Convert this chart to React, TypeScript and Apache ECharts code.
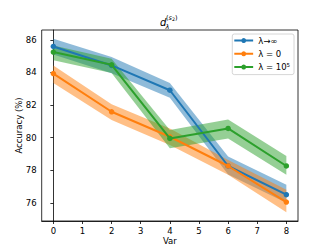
import React, { useEffect, useRef } from "react";
import * as echarts from "echarts";

const xValues = [0, 2, 4, 6, 8];
const seriesNames = ["λ→∞", "λ = 0", "λ = 10⁵"];
const colors = ["#1f77b4", "#ff7f0e", "#2ca02c"];

const blueMean = [85.59, 84.43, 82.91, 78.27, 76.51];
const blueLower = [85.1, 83.95, 82.45, 77.75, 76.02];
const blueUpper = [86.06, 84.94, 83.35, 78.85, 77.12];

const orangeMean = [83.93, 81.59, 80.06, 78.27, 76.06];
const orangeLower = [83.35, 81.08, 79.55, 77.73, 75.43];
const orangeUpper = [84.43, 82.05, 80.57, 78.64, 76.81];

const greenMean = [85.25, 84.47, 79.96, 80.57, 78.27];
const greenLower = [84.74, 83.96, 79.35, 79.96, 77.73];
const greenUpper = [85.65, 84.84, 80.47, 81.12, 78.88];

const xTicks = [0, 1, 2, 3, 4, 5, 6, 7, 8];
const yTicks = [76, 78, 80, 82, 84, 86];

const FONT = "DejaVu Sans";

export default function App() {
  const ref = useRef<HTMLDivElement>(null);
  useEffect(() => {
    if (!ref.current) return;
    const chart = echarts.init(ref.current, undefined, { renderer: "svg" });
    const means = [blueMean, orangeMean, greenMean];
    const lowers = [blueLower, orangeLower, greenLower];
    const uppers = [blueUpper, orangeUpper, greenUpper];

    const bandSeries = means.map((_, i) => ({
      type: "custom",
      silent: true,
      z: 1,
      data: [[xValues[0], lowers[i][0]]],
      encode: { x: 0, y: 1 },
      renderItem: (params: any, api: any) => {
        const top = xValues.map((x, j) => api.coord([x, uppers[i][j]]));
        const bottom = xValues.map((x, j) => api.coord([x, lowers[i][j]])).reverse();
        return {
          type: "polygon",
          shape: { points: top.concat(bottom) },
          style: { fill: colors[i], opacity: 0.5 },
        };
      },
    }));

    const lineSeries = means.map((m, i) => ({
      name: seriesNames[i],
      type: "line",
      data: xValues.map((x, j) => [x, m[j]]),
      symbol: "circle",
      symbolSize: 5.5,
      showSymbol: true,
      lineStyle: { color: colors[i], width: 2 },
      itemStyle: { color: colors[i] },
      z: 3 + i,
    }));

    const legendIcon =
      "path://M0,1.5H7.2A2.5,2.5 0 0 1 11.8,1.5H19V3.5H11.8A2.5,2.5 0 0 1 7.2,3.5H0Z";

    chart.setOption({
      animation: false,
      grid: {
        left: 41.7,
        right: 34,
        top: 30,
        bottom: 28,
        outerBoundsMode: "none",
        containLabel: false,
        show: true,
        borderColor: "#000",
        borderWidth: 0.8,
        backgroundColor: "transparent",
      },
      xAxis: {
        type: "value",
        min: -0.4,
        max: 8.4,
        name: "Var",
        nameLocation: "middle",
        nameGap: 15,
        nameMoveOverlap: false,
        nameTextStyle: { fontFamily: FONT, fontSize: 8.5, color: "#000" },
        axisLine: { show: true, lineStyle: { color: "#000", width: 0.8 } },
        axisTick: { show: true, length: 3, customValues: xTicks, lineStyle: { color: "#000", width: 0.8 } },
        axisLabel: { customValues: xTicks, fontFamily: FONT, fontSize: 8.5, color: "#000", margin: 5 },
        splitLine: { show: false },
      },
      yAxis: {
        type: "value",
        min: 74.9,
        max: 86.6,
        name: "Accuracy (%)",
        nameLocation: "middle",
        nameGap: 18,
        nameMoveOverlap: false,
        nameTextStyle: { fontFamily: FONT, fontSize: 8.5, color: "#000" },
        axisLine: { show: true, lineStyle: { color: "#000", width: 0.8 } },
        axisTick: { show: true, length: 3, customValues: yTicks, lineStyle: { color: "#000", width: 0.8 } },
        axisLabel: { customValues: yTicks, fontFamily: FONT, fontSize: 8.5, color: "#000", margin: 5 },
        splitLine: { show: false },
      },
      legend: {
        data: seriesNames,
        orient: "vertical",
        right: 38,
        top: 34,
        itemWidth: 19,
        itemHeight: 5,
        itemGap: 3.3,
        icon: legendIcon,
        padding: [1.5, 4, 2.5, 2],
        borderColor: "#ccc",
        borderWidth: 0.8,
        borderRadius: 2,
        backgroundColor: "rgba(255,255,255,0.8)",
        textStyle: { fontFamily: FONT, fontSize: 8.5, color: "#000", lineHeight: 10 },
      },
      graphic: [
        {
          type: "text",
          x: 160,
          y: 22,
          style: { text: "d", font: "italic 10px DejaVu Sans", fill: "#000", verticalAlign: "middle" },
        },
        {
          type: "text",
          x: 165.5,
          y: 26.5,
          style: { text: "λ", font: "italic 6.5px DejaVu Sans", fill: "#000", verticalAlign: "middle" },
        },
        {
          type: "text",
          x: 166,
          y: 17.5,
          style: {
            text: "{n|(}{i|s}{s|2}{n|)}",
            verticalAlign: "middle",
            rich: {
              n: { fontFamily: FONT, fontSize: 6.5, fill: "#000" },
              i: { fontFamily: FONT, fontSize: 6.5, fontStyle: "italic", fill: "#000" },
              s: { fontFamily: FONT, fontSize: 4.8, fill: "#000", padding: [3, 0, 0, 0] },
            },
          },
        },
      ],
      series: [...bandSeries, ...lineSeries],
    });
    return () => chart.dispose();
  }, []);
  return <div ref={ref} style={{ width: 332, height: 249, position: "absolute", left: 0, top: 0 }} />;
}
